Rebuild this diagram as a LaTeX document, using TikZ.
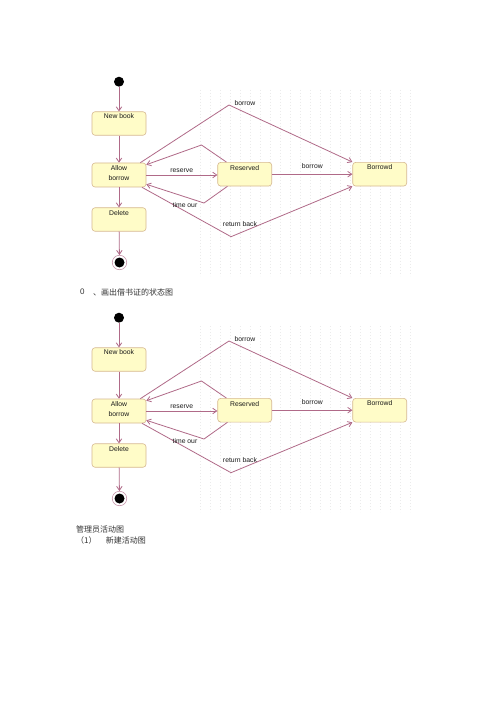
\documentclass[tikz,border=0pt]{standalone}
\usepackage{fontspec}
\setmainfont{Liberation Sans}
\newfontfamily\cjk{Noto Sans CJK SC}
\usetikzlibrary{arrows.meta}
\definecolor{ln}{HTML}{B06A88}
\definecolor{bx}{HTML}{FFFCC8}
\definecolor{bd}{HTML}{D6B890}
\begin{document}
\begin{tikzpicture}[x=1pt,y=-1pt,
  box/.style={draw=bd, fill=bx, rounded corners=3pt, minimum width=54pt, minimum height=23.5pt, inner sep=0pt, line width=0.6pt},
  lbl/.style={font=\fontsize{6.8}{9.4}\selectfont, inner sep=0pt, text=black!90, align=center},
  tr/.style={draw=ln, line width=0.8pt, -{Straight Barb[length=4pt,width=5.5pt]}},
  initdot/.style={circle, fill=black, minimum size=10pt, inner sep=0pt},
  finring/.style={circle, draw=ln!80, fill=white, line width=0.5pt, minimum size=14.5pt, inner sep=0pt},
  findot/.style={circle, fill=black, minimum size=10pt, inner sep=0pt},
  griddot/.style={draw=black!8, line width=0.4pt, dash pattern=on 0.4pt off 2.6pt},
  captxt/.style={font=\fontsize{8}{9}\selectfont, inner sep=0pt, text=black!80, anchor=west}]
\useasboundingbox (0,0) rectangle (500,708);
\fill[white] (0,0) rectangle (500,708);
\foreach \d/\o in {1/0,2/236}{
\begin{scope}[shift={(0,\o)}]
  \foreach \gx in {200,210,...,410}{\draw[griddot] (\gx,90) -- (\gx,276);}
  \node[initdot] (i\d) at (119,81.7) {};
  \node[finring] (f\d) at (119.5,262.5) {};
  \node[findot] (fd\d) at (119.5,262.5) {};
  \node[box] (nb\d) at (119,123.5) {};
  \node[box, minimum height=24pt] (al\d) at (119,175) {};
  \node[box] (de\d) at (119,219.5) {};
  \node[box, minimum height=23.7pt] (re\d) at (244.7,174.2) {};
  \node[box, minimum height=23.7pt] (bo\d) at (379.7,174.2) {};
  \node[lbl] (nbt\d) at (119,116.5) {New book};
  \node[lbl] (alt\d) at (119,173) {Allow\\borrow};
  \node[lbl] (det\d) at (119,212.7) {Delete};
  \node[lbl] (ret\d) at (244.7,167.7) {Reserved};
  \node[lbl] (bot\d) at (379.7,167.2) {Borrowd};
  \coordinate (p1\d) at (229,105);
  \coordinate (p2\d) at (201.5,145);
  \coordinate (p3\d) at (204,203);
  \coordinate (p4\d) at (231,236.7);
  \draw[tr] (i\d.south) -- (nb\d.north);
  \draw[tr] (nb\d) -- (al\d);
  \draw[tr] (al\d) -- (de\d);
  \draw[tr] (de\d) -- (f\d);
  \draw[tr] ([shift={(-6,0)}]al\d.north east) -- (p1\d) -- (bo\d.north west);
  \draw[tr] ([shift={(9,0)}]re\d.north west) -- (p2\d) -- ([shift={(0,2)}]al\d.north east);
  \draw[tr] (al\d.east) -- (al\d.east -| re\d.west);
  \draw[tr] ([shift={(10,0)}]re\d.south west) -- (p3\d) -- ([shift={(0,-3)}]al\d.south east);
  \draw[tr] ([shift={(-4.3,0)}]al\d.south east) -- (p4\d) -- (bo\d.south west);
  \draw[tr] (re\d.east) -- (re\d.east -| bo\d.west);
  \node[lbl] (lb1\d) at (245,103.3) {borrow};
  \node[lbl] (lb2\d) at (181.7,171) {reserve};
  \node[lbl] (lb3\d) at (312.3,166.5) {borrow};
  \node[lbl] (lb4\d) at (185,205.3) {time our};
  \node[lbl] (lb5\d) at (240,224) {return back};
\end{scope}
}
\node[captxt] (c0) at (80,292) {0};
\node[captxt] (c1) at (93,292) {\cjk 、画出借书证的状态图};
\node[captxt] (c2) at (76,529.3) {\cjk 管理员活动图};
\node[captxt] (c3) at (76,540.7) {\cjk （1）};
\node[captxt] (c4) at (105.7,540.7) {\cjk 新建活动图};
\end{tikzpicture}
\end{document}
